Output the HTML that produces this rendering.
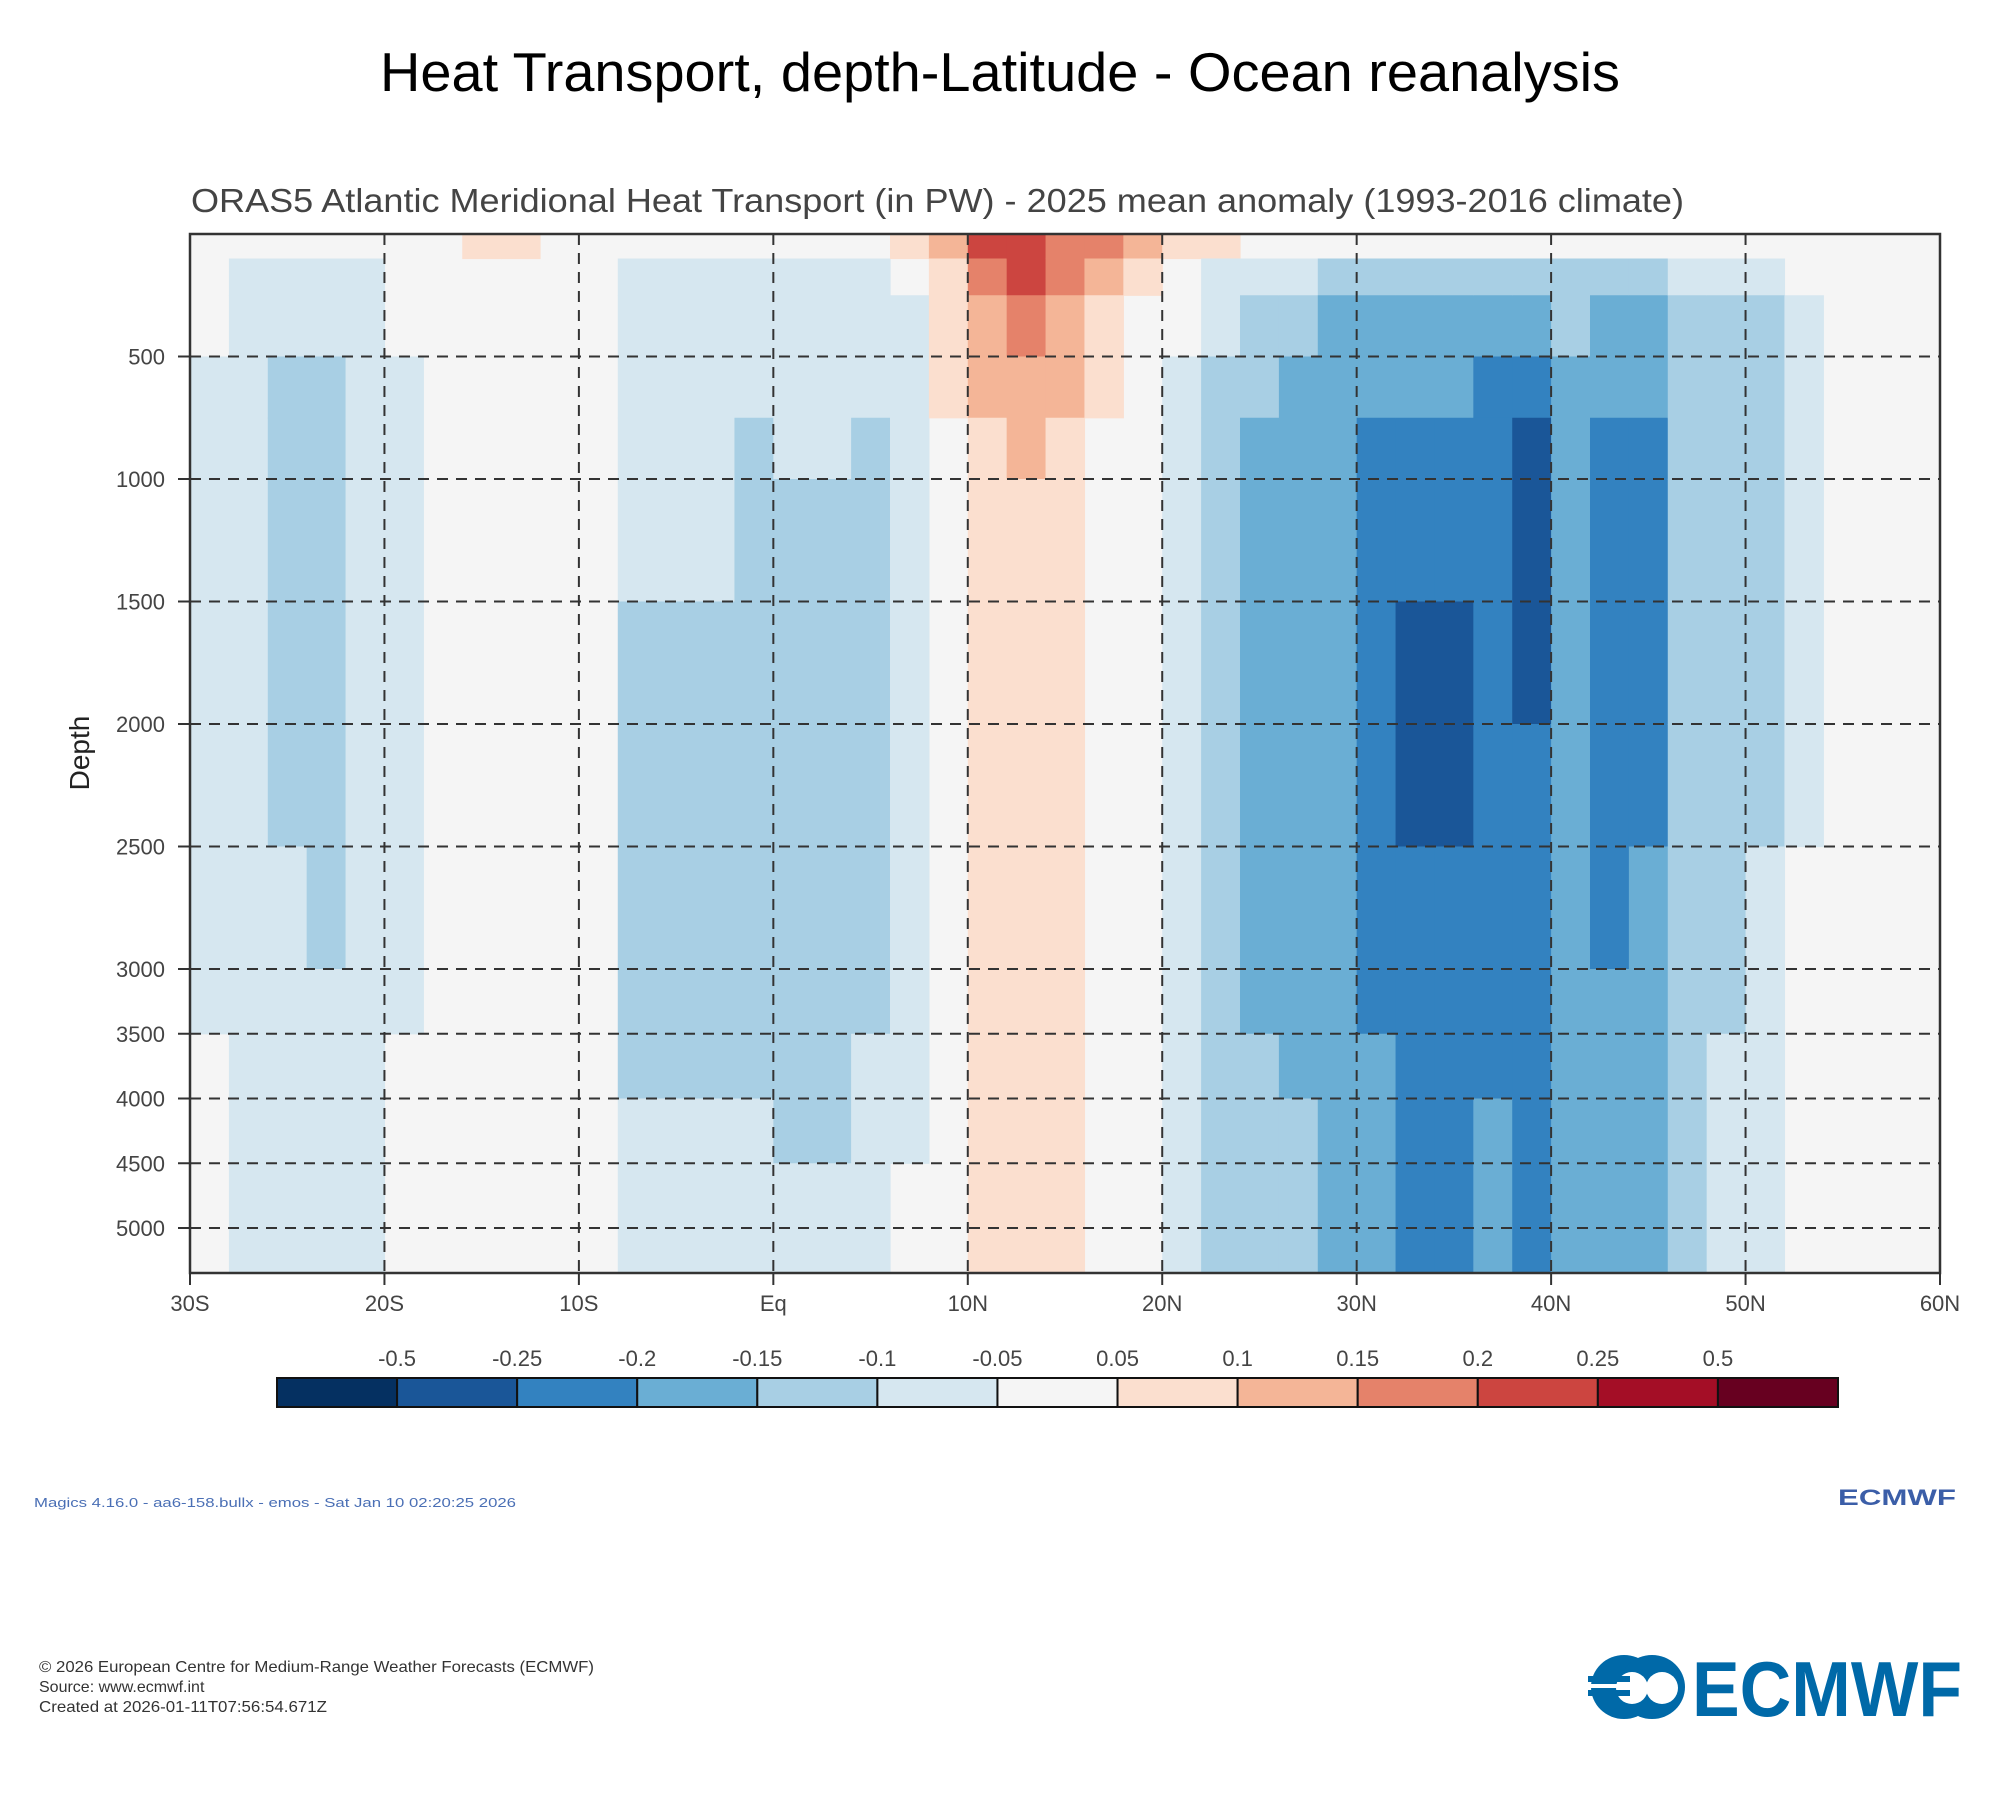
<!DOCTYPE html>
<html><head><meta charset="utf-8"><style>
html,body{margin:0;padding:0;background:#fff;}
svg{display:block;font-family:"Liberation Sans",sans-serif;}
</style></head><body>
<svg id="root" width="2000" height="1800" viewBox="0 0 2000 1800" xmlns="http://www.w3.org/2000/svg">
<text x="1000" y="91" text-anchor="middle" font-size="55" fill="#000" textLength="1240" lengthAdjust="spacingAndGlyphs">Heat Transport, depth-Latitude - Ocean reanalysis</text>
<text x="191" y="212" font-size="33" fill="#444" textLength="1493" lengthAdjust="spacingAndGlyphs">ORAS5 Atlantic Meridional Heat Transport (in PW) - 2025 mean anomaly (1993-2016 climate)</text>
<g id="plot"></g>
<g id="cbar"></g>
<text x="34" y="1507" font-size="13" fill="#4a6fb5" textLength="482" lengthAdjust="spacingAndGlyphs">Magics 4.16.0 - aa6-158.bullx - emos - Sat Jan 10 02:20:25 2026</text>
<text x="1838" y="1505" font-size="22" font-weight="bold" fill="#3b5ea8" textLength="118" lengthAdjust="spacingAndGlyphs">ECMWF</text>
<text x="39" y="1672" font-size="16" fill="#333" textLength="555" lengthAdjust="spacingAndGlyphs">© 2026 European Centre for Medium-Range Weather Forecasts (ECMWF)</text>
<text x="39" y="1692" font-size="16" fill="#333">Source: www.ecmwf.int</text>
<text x="39" y="1712" font-size="16" fill="#333" textLength="288" lengthAdjust="spacingAndGlyphs">Created at 2026-01-11T07:56:54.671Z</text>
<g>
<ellipse cx="1624" cy="1687" rx="33" ry="32" fill="#0069a8"/>
<ellipse cx="1652" cy="1687" rx="33" ry="32" fill="#0069a8"/>
<circle cx="1632" cy="1688" r="16" fill="#fff"/>
<circle cx="1662" cy="1688" r="16" fill="#fff"/>
<rect x="1588" y="1684" width="60" height="4" fill="#fff"/>
<rect x="1588" y="1676" width="42" height="6" fill="#0069a8"/>
<rect x="1588" y="1690" width="42" height="6" fill="#0069a8"/>
<text x="1692" y="1716" font-size="78" font-weight="bold" fill="#0069a8" textLength="270" lengthAdjust="spacingAndGlyphs">ECMWF</text>
</g>
</svg>
<script>
// ---- data ----
const latEdges = [-30,-28,-26,-24,-22,-20,-18,-16,-14,-12,-10,-8,-6,-4,-2,0,2,4,6,8,10,12,14,16,18,20,22,24,26,28,30,32,34,36,38,40,42,44,46,48,50,52,54,56,58,60];
const depthEdges = [0,100,250,500,750,1000,1500,2000,2500,3000,3500,4000,4500,5000,5340];
const depthTicks = [500,1000,1500,2000,2500,3000,3500,4000,4500,5000];
const latTicks = [-30,-20,-10,0,10,20,30,40,50,60];
const latTickLabels = ["30S","20S","10S","Eq","10N","20N","30N","40N","50N","60N"];
const levels = [-0.5,-0.25,-0.2,-0.15,-0.1,-0.05,0.05,0.1,0.15,0.2,0.25,0.5];
const levelLabels = ["-0.5","-0.25","-0.2","-0.15","-0.1","-0.05","0.05","0.1","0.15","0.2","0.25","0.5"];
const palette = ["#053061","#1a5698","#3382c0","#6aaed4","#a8cfe4","#d6e7f0","#f5f5f5","#fbdfcf","#f4b597","#e5826a","#cc4540","#a40e26","#670020"];
// field values: one array per latitude column (2 degrees), values by depth row
const Z=0, A=-0.07, B=-0.12, C=-0.17, D=-0.22, E=-0.3, P=0.07, Q=0.12, R=0.17, S=0.22;
const field = [
 [Z,Z,Z,A,A,A,A,A,A,A,Z,Z,Z,Z], // -29
 [Z,A,A,A,A,A,A,A,A,A,A,A,A,A], // -27
 [Z,A,A,B,B,B,B,B,A,A,A,A,A,A], // -25
 [Z,A,A,B,B,B,B,B,B,A,A,A,A,A], // -23
 [Z,A,A,A,A,A,A,A,A,A,A,A,A,A], // -21
 [Z,Z,Z,A,A,A,A,A,A,A,Z,Z,Z,Z], // -19
 [Z,Z,Z,Z,Z,Z,Z,Z,Z,Z,Z,Z,Z,Z], // -17
 [P,Z,Z,Z,Z,Z,Z,Z,Z,Z,Z,Z,Z,Z], // -15
 [P,Z,Z,Z,Z,Z,Z,Z,Z,Z,Z,Z,Z,Z], // -13
 [Z,Z,Z,Z,Z,Z,Z,Z,Z,Z,Z,Z,Z,Z], // -11
 [Z,Z,Z,Z,Z,Z,Z,Z,Z,Z,Z,Z,Z,Z], // -9
 [Z,A,A,A,A,A,B,B,B,B,B,A,A,A], // -7
 [Z,A,A,A,A,A,B,B,B,B,B,A,A,A], // -5
 [Z,A,A,A,A,A,B,B,B,B,B,A,A,A], // -3
 [Z,A,A,A,B,B,B,B,B,B,B,A,A,A], // -1
 [Z,A,A,A,A,B,B,B,B,B,B,B,A,A], // 1
 [Z,A,A,A,A,B,B,B,B,B,B,B,A,A], // 3
 [Z,A,A,A,B,B,B,B,B,B,A,A,A,A], // 5
 [P,Z,A,A,A,A,A,A,A,A,A,A,Z,Z], // 7
 [Q,P,P,P,Z,Z,Z,Z,Z,Z,Z,Z,Z,Z], // 9
 [S,R,Q,Q,P,P,P,P,P,P,P,P,P,P], // 11
 [S,S,R,Q,Q,P,P,P,P,P,P,P,P,P], // 13
 [R,R,Q,Q,P,P,P,P,P,P,P,P,P,P], // 15
 [R,Q,P,P,Z,Z,Z,Z,Z,Z,Z,Z,Z,Z], // 17
 [Q,P,Z,Z,Z,Z,Z,Z,Z,Z,Z,Z,Z,Z], // 19
 [P,Z,Z,A,A,A,A,A,A,A,A,A,A,A], // 21
 [P,A,A,B,B,B,B,B,B,B,B,B,B,B], // 23
 [Z,A,B,B,C,C,C,C,C,C,B,B,B,B], // 25
 [Z,A,B,C,C,C,C,C,C,C,C,B,B,B], // 27
 [Z,B,C,C,C,C,C,C,C,C,C,C,C,C], // 29
 [Z,B,C,C,D,D,D,D,D,D,C,C,C,C], // 31
 [Z,B,C,C,D,D,E,E,D,D,D,D,D,D], // 33
 [Z,B,C,C,D,D,E,E,D,D,D,D,D,D], // 35
 [Z,B,C,D,D,D,D,D,D,D,D,C,C,C], // 37
 [Z,B,C,D,E,E,E,D,D,D,D,D,D,D], // 39
 [Z,B,B,C,C,C,C,C,C,C,C,C,C,C], // 41
 [Z,B,C,C,D,D,D,D,D,C,C,C,C,C], // 43
 [Z,B,C,C,D,D,D,D,C,C,C,C,C,C], // 45
 [Z,A,B,B,B,B,B,B,B,B,B,B,B,B], // 47
 [Z,A,B,B,B,B,B,B,B,B,A,A,A,A], // 49
 [Z,A,B,B,B,B,B,B,A,A,A,A,A,A], // 51
 [Z,Z,A,A,A,A,A,A,Z,Z,Z,Z,Z,Z], // 53
 [Z,Z,Z,Z,Z,Z,Z,Z,Z,Z,Z,Z,Z,Z], // 55
 [Z,Z,Z,Z,Z,Z,Z,Z,Z,Z,Z,Z,Z,Z], // 57
 [Z,Z,Z,Z,Z,Z,Z,Z,Z,Z,Z,Z,Z,Z]  // 59
];
// ---- scales ----
const NS="http://www.w3.org/2000/svg";
const PL=190, PR=1940, PT=234, PB=1273;
function xScale(lat){ return PL + (lat+30)/90*(PR-PL); }
function yScale(d){ return d<=3000 ? PT + d*0.245 : PT + 3000*0.245 + (d-3000)*0.1295; }
function colorFor(v){ let i=0; while(i<levels.length && v>=levels[i]) i++; return palette[i]; }
function mk(tag, attrs, parent){ const e=document.createElementNS(NS,tag); for(const k in attrs) e.setAttribute(k,attrs[k]); parent.appendChild(e); return e; }
const plot=document.getElementById('plot');
mk('rect',{x:PL,y:PT,width:PR-PL,height:PB-PT,fill:"#f5f5f5"},plot);
for(let i=0;i<field.length;i++){
  for(let j=0;j<field[i].length;j++){
    const v=field[i][j];
    if(v===0) continue;
    const x0=xScale(latEdges[i]), x1=xScale(latEdges[i+1]);
    const y0=yScale(depthEdges[j]), y1=Math.min(yScale(depthEdges[j+1]),PB);
    const c=mk('rect',{x:x0,y:y0,width:x1-x0+0.6,height:y1-y0+0.6,fill:colorFor(v)},plot);
    
    
  }
}
// grid
for(const d of depthTicks){
  const y=yScale(d);
  const g=mk('line',{x1:PL,x2:PR,y1:y,y2:y,stroke:"#333","stroke-width":2,"stroke-dasharray":"11,8"},plot);
  
  
  mk('line',{x1:PL-12,x2:PL,y1:y,y2:y,stroke:"#333","stroke-width":2},plot);
  const t=mk('text',{x:PL-25,y:y+8,"text-anchor":"end","font-size":22,fill:"#444"},plot);
  t.textContent=String(d);
  
  
}
latTicks.forEach((lat,k)=>{
  const x=xScale(lat);
  if(k>0 && k<latTicks.length-1){
    const g=mk('line',{x1:x,x2:x,y1:PT,y2:PB,stroke:"#333","stroke-width":2,"stroke-dasharray":"11,8"},plot);
    
    
  }
  mk('line',{x1:x,x2:x,y1:PB,y2:PB+12,stroke:"#333","stroke-width":2},plot);
  const t=mk('text',{x:x,y:PB+38,"text-anchor":"middle","font-size":22,fill:"#444"},plot);
  t.textContent=latTickLabels[k];
  
  
});
const fr=mk('rect',{x:PL,y:PT,width:PR-PL,height:PB-PT,fill:"none",stroke:"#333","stroke-width":2.5},plot);


const yl=mk('text',{x:0,y:0,transform:"translate(89,753) rotate(-90)","text-anchor":"middle","font-size":28,fill:"#222"},plot);
yl.textContent="Depth";


// colorbar
const cb=document.getElementById('cbar');
const CX0=277, CX1=1838, CY=1378, CH=29, bw=(CX1-CX0)/palette.length;
palette.forEach((col,i)=>{
  const r=mk('rect',{x:CX0+i*bw,y:CY,width:bw,height:CH,fill:col,stroke:"#111","stroke-width":2},cb);
  
  
});
levelLabels.forEach((lab,i)=>{
  const t=mk('text',{x:CX0+(i+1)*bw,y:CY-12,"text-anchor":"middle","font-size":22,fill:"#444"},cb);
  t.textContent=lab;
  
  
});
</script>
</body></html>
